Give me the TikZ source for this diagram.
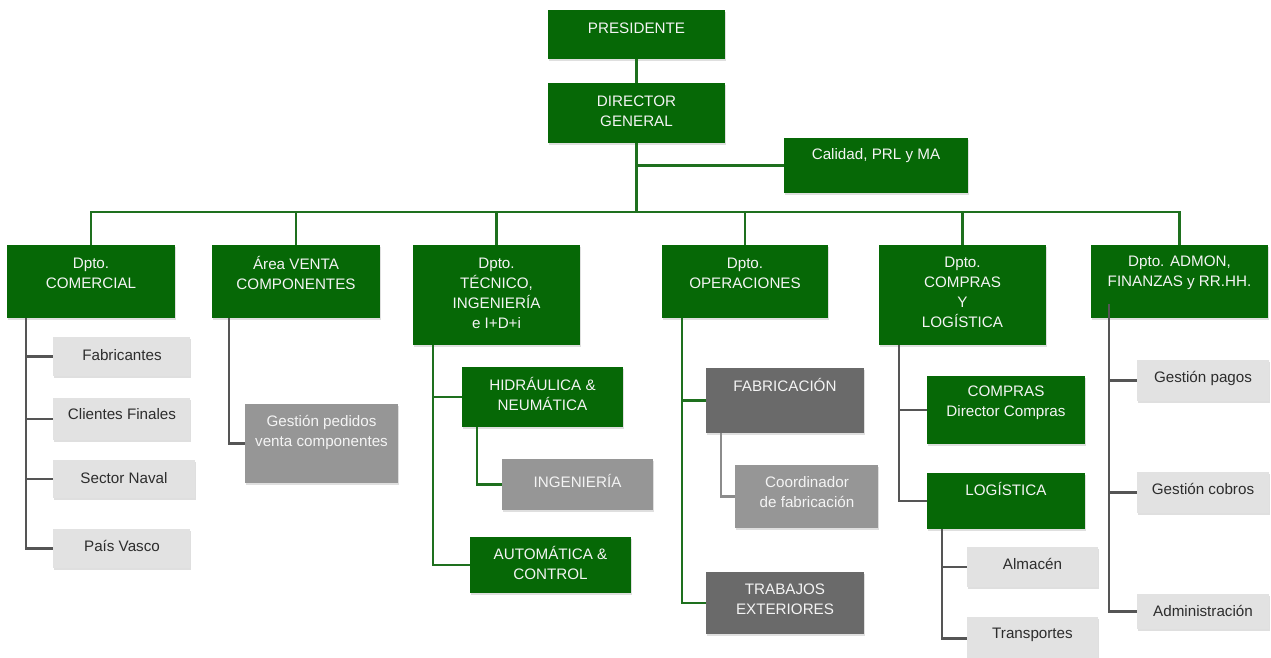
\documentclass[tikz,border=0pt]{standalone}
\usepackage{fontspec}
\setmainfont{Liberation Sans}
\usetikzlibrary{shadows}
\definecolor{gboxc}{RGB}{6,104,6}
\definecolor{lgray}{RGB}{226,226,226}
\definecolor{mgray}{RGB}{150,150,150}
\definecolor{dgray}{RGB}{106,106,106}
\definecolor{glin}{RGB}{30,112,30}
\definecolor{klin}{RGB}{85,85,85}
\definecolor{klin2}{RGB}{140,140,140}
\definecolor{txtw}{RGB}{244,244,244}
\definecolor{txtd}{RGB}{45,45,45}
\tikzset{
 boxbase/.style={inner sep=0pt, outer sep=0pt, anchor=north west,
   drop shadow={shadow xshift=0.8pt, shadow yshift=-1.8pt, opacity=0.25}},
 gbox/.style={boxbase, fill=gboxc},
 lbox/.style={boxbase, fill=lgray},
 mbox/.style={boxbase, fill=mgray},
 dbox/.style={boxbase, fill=dgray},
 wtxt/.style={text=txtw, font=\fontsize{15.2}{20}\selectfont, align=center, inner sep=0pt},
 dtxt/.style={wtxt, text=txtd},
 gl/.style={draw=glin, line width=2.4pt},
 kl/.style={draw=klin, line width=2.4pt},
 kl2/.style={draw=klin2, line width=2.4pt},
}
\newcommand\obox[6]{\node[#2, minimum width={(#5-#3)*1pt}, minimum height={(#6-#4)*1pt}] (#1) at (#3,#4) {};}
\begin{document}
\begin{tikzpicture}[x=1pt,y=-1pt]
\path[fill=white,use as bounding box] (0,0) rectangle (1271,657);
% boxes
\obox{pres}{gbox}{548}{10}{725}{59}
\obox{dir}{gbox}{548}{83}{725}{143}
\obox{cal}{gbox}{784}{138}{968}{193}
\obox{com}{gbox}{7}{245}{175}{318}
\obox{venta}{gbox}{212}{245}{380}{318}
\obox{tec}{gbox}{413}{245}{580}{345}
\obox{ope}{gbox}{662}{245}{828}{318}
\obox{cyl}{gbox}{879}{245}{1046}{345}
\obox{adm}{gbox}{1091}{245}{1268}{318}
\obox{fab}{lbox}{53}{337}{190}{376}
\obox{cli}{lbox}{53}{398}{190}{440}
\obox{sec}{lbox}{53}{460}{195}{498}
\obox{pai}{lbox}{53}{529}{190}{568}
\obox{ges}{mbox}{245}{404}{398}{483}
\obox{hid}{gbox}{462}{367}{623}{427}
\obox{ing}{mbox}{502}{459}{653}{510}
\obox{aut}{gbox}{470}{537}{631}{593}
\obox{fbr}{dbox}{706}{368}{864}{433}
\obox{coo}{mbox}{735}{465}{878}{528}
\obox{tra}{dbox}{706}{572}{864}{634}
\obox{cdc}{gbox}{927}{376}{1085}{444}
\obox{log}{gbox}{927}{473}{1085}{529}
\obox{alm}{lbox}{967}{547}{1098}{587}
\obox{trn}{lbox}{967}{617}{1098}{660}
\obox{gpa}{lbox}{1137}{360}{1269}{401}
\obox{gco}{lbox}{1137}{472}{1269}{513}
\obox{adn}{lbox}{1137}{594}{1269}{629}
% texts
\node[wtxt] (pres-t) at (636.5,28) {PRESIDENTE};
\node[wtxt] (dir-t) at (636.5,111) {DIRECTOR\\GENERAL};
\node[wtxt] (cal-t) at (876,156) {Calidad, PRL y MA};
\node[wtxt] (com-t) at (91,273) {Dpto.\\COMERCIAL};
\node[wtxt] (venta-t) at (296,273) {Área VENTA\\COMPONENTES};
\node[wtxt] (tec-t) at (496.5,293) {Dpto.\\TÉCNICO,\\INGENIERÍA\\e I+D+i};
\node[wtxt] (ope-t) at (745,273) {Dpto.\\OPERACIONES};
\node[wtxt] (cyl-t) at (962.5,292.5) {Dpto.\\COMPRAS\\Y\\LOGÍSTICA};
\node[wtxt] (adm-t) at (1179.5,273) {Dpto. ADMON,\\FINANZAS y RR.HH.};
\node[dtxt] (fab-t) at (122,355) {Fabricantes};
\node[dtxt] (cli-t) at (122,414) {Clientes Finales};
\node[dtxt] (sec-t) at (124,478) {Sector Naval};
\node[dtxt] (pai-t) at (122,546) {País Vasco};
\node[wtxt] (ges-t) at (321.5,432) {Gestión pedidos\\venta componentes};
\node[wtxt] (hid-t) at (542.5,393.5) {HIDRÁULICA \&\\NEUMÁTICA};
\node[wtxt] (ing-t) at (577.5,481) {INGENIERÍA};
\node[wtxt] (aut-t) at (550.5,563) {AUTOMÁTICA \&\\CONTROL};
\node[wtxt] (fbr-t) at (785,385) {FABRICACIÓN};
\node[wtxt] (coo-t) at (807,492) {Coordinador\\de fabricación};
\node[wtxt] (tra-t) at (785,599) {TRABAJOS\\EXTERIORES};
\node[wtxt] (cdc-t) at (1006,403) {COMPRAS\\Director Compras};
\node[wtxt] (log-t) at (1006,489) {LOGÍSTICA};
\node[dtxt] (alm-t) at (1032.5,564) {Almacén};
\node[dtxt] (trn-t) at (1032.5,635) {Transportes};
\node[dtxt] (gpa-t) at (1203,378) {Gestión pagos};
\node[dtxt] (gco-t) at (1203,489) {Gestión cobros};
\node[dtxt] (adn-t) at (1203,611) {Administración};
% coordinates
\coordinate (bus) at (636.5,212);
\coordinate (comx) at (26,318);
\coordinate (venx) at (229,318);
\coordinate (tecx) at (433,345);
\coordinate (hidx) at (477,427);
\coordinate (opex) at (682,318);
\coordinate (fbrx) at (721,433);
\coordinate (cylx) at (899,345);
\coordinate (logx) at (942,529);
\coordinate (admx) at (1109,304);
% connectors
\draw[gl] (pres) -- (dir);
\draw[gl] (dir.south) -- (bus);
\draw[gl] (dir.south |- cal.west) -- (cal.west);
\draw[gl] (com.north) -- (com.north |- bus) -- (adm.north |- bus) -- (adm.north);
\draw[gl] (venta.north) -- (venta.north |- bus);
\draw[gl] (tec.north) -- (tec.north |- bus);
\draw[gl] (ope.north) -- (ope.north |- bus);
\draw[gl] (cyl.north) -- (cyl.north |- bus);
\draw[kl] (comx) |- (fab.west);
\draw[kl] (comx) |- (cli.west);
\draw[kl] (comx) |- (sec.west);
\draw[kl] (comx) |- (pai.west);
\draw[kl] (venx) |- (ges.west);
\draw[gl] (tecx) |- (hid.west);
\draw[gl] (tecx) |- (aut.west);
\draw[gl] (hidx) |- (ing.west);
\draw[gl] (opex) |- (fbr.west);
\draw[gl] (opex) |- (tra.west);
\draw[kl2] (fbrx) |- (coo.west);
\draw[kl] (cylx) |- (cdc.west);
\draw[kl] (cylx) |- (log.west);
\draw[kl] (logx) |- (alm.west);
\draw[kl] (logx) |- (trn.west);
\draw[kl] (admx) |- (gpa.west);
\draw[kl] (admx) |- (gco.west);
\draw[kl] (admx) |- (adn.west);
\end{tikzpicture}
\end{document}
